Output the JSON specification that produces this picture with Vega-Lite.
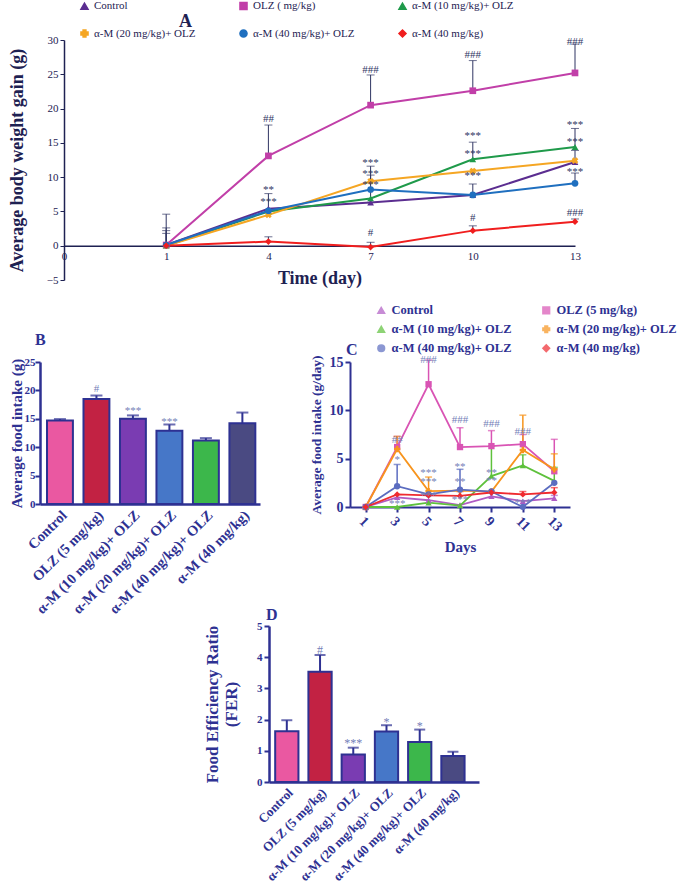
{
  "$schema": "https://vega.github.io/schema/vega-lite/v6.json",
  "padding": {"left": 8, "top": 0, "right": 2, "bottom": 0},
  "background": "white",
  "spacing": 16,
  "resolve": {"scale": {"x": "independent", "y": "independent", "color": "independent", "shape": "independent"}, "axis": {"x": "independent", "y": "independent"}, "legend": {"color": "independent", "shape": "independent"}},
  "datasets": {
    "lineA": [
      {"g": "Control", "day": 1, "v": 0.1}, {"g": "Control", "day": 4, "v": 5.4}, {"g": "Control", "day": 7, "v": 6.3}, {"g": "Control", "day": 10, "v": 7.4}, {"g": "Control", "day": 13, "v": 12.2},
      {"g": "OLZ ( mg/kg)", "day": 1, "v": 0.1}, {"g": "OLZ ( mg/kg)", "day": 4, "v": 13.1}, {"g": "OLZ ( mg/kg)", "day": 7, "v": 20.5}, {"g": "OLZ ( mg/kg)", "day": 10, "v": 22.6}, {"g": "OLZ ( mg/kg)", "day": 13, "v": 25.2},
      {"g": "α-M (10 mg/kg)+ OLZ", "day": 1, "v": 0}, {"g": "α-M (10 mg/kg)+ OLZ", "day": 4, "v": 5.0}, {"g": "α-M (10 mg/kg)+ OLZ", "day": 7, "v": 6.9}, {"g": "α-M (10 mg/kg)+ OLZ", "day": 10, "v": 12.6}, {"g": "α-M (10 mg/kg)+ OLZ", "day": 13, "v": 14.4},
      {"g": "α-M (20 mg/kg)+ OLZ", "day": 1, "v": 0}, {"g": "α-M (20 mg/kg)+ OLZ", "day": 4, "v": 4.5}, {"g": "α-M (20 mg/kg)+ OLZ", "day": 7, "v": 9.4}, {"g": "α-M (20 mg/kg)+ OLZ", "day": 10, "v": 10.9}, {"g": "α-M (20 mg/kg)+ OLZ", "day": 13, "v": 12.4},
      {"g": "α-M (40 mg/kg)+ OLZ", "day": 1, "v": 0.1}, {"g": "α-M (40 mg/kg)+ OLZ", "day": 4, "v": 5.1}, {"g": "α-M (40 mg/kg)+ OLZ", "day": 7, "v": 8.2}, {"g": "α-M (40 mg/kg)+ OLZ", "day": 10, "v": 7.4}, {"g": "α-M (40 mg/kg)+ OLZ", "day": 13, "v": 9.1},
      {"g": "α-M (40 mg/kg)", "day": 1, "v": 0}, {"g": "α-M (40 mg/kg)", "day": 4, "v": 0.6}, {"g": "α-M (40 mg/kg)", "day": 7, "v": -0.2}, {"g": "α-M (40 mg/kg)", "day": 10, "v": 2.2}, {"g": "α-M (40 mg/kg)", "day": 13, "v": 3.5}
    ],
    "errA": [
      {"day": 1, "v": 0, "hi": 4.6}, {"day": 1, "v": 0, "hi": 2.6}, {"day": 1, "v": 0, "hi": 2.2}, {"day": 1, "v": 0, "hi": 1.8},
      {"day": 4, "v": 13.1, "hi": 17.6}, {"day": 4, "v": 5.4, "hi": 7.6}, {"day": 4, "v": 0.6, "hi": 1.3},
      {"day": 7, "v": 20.5, "hi": 24.9}, {"day": 7, "v": 6.3, "hi": 11.6}, {"day": 7, "v": 9.4, "hi": 10.3}, {"day": 7, "v": -0.2, "hi": 0.5},
      {"day": 10, "v": 22.6, "hi": 27.0}, {"day": 10, "v": 12.6, "hi": 15.1}, {"day": 10, "v": 7.4, "hi": 9.0}, {"day": 10, "v": 2.2, "hi": 2.9},
      {"day": 13, "v": 25.2, "hi": 29.4}, {"day": 13, "v": 14.4, "hi": 17.1}, {"day": 13, "v": 12.4, "hi": 13.9}, {"day": 13, "v": 9.1, "hi": 10.6}, {"day": 13, "v": 3.5, "hi": 3.9}
    ],
    "annA": [
      {"day": 4, "v": 18.8, "t": "##"}, {"day": 4, "v": 8.4, "t": "**"}, {"day": 4, "v": 6.6, "t": "***"},
      {"day": 7, "v": 25.9, "t": "###"}, {"day": 7, "v": 12.4, "t": "***"}, {"day": 7, "v": 10.7, "t": "***"}, {"day": 7, "v": 9.1, "t": "***"}, {"day": 7, "v": 2.1, "t": "#"},
      {"day": 10, "v": 28.1, "t": "###"}, {"day": 10, "v": 16.3, "t": "***"}, {"day": 10, "v": 13.6, "t": "***"}, {"day": 10, "v": 10.4, "t": "***"}, {"day": 10, "v": 4.3, "t": "#"},
      {"day": 13, "v": 30.0, "t": "###"}, {"day": 13, "v": 17.9, "t": "***"}, {"day": 13, "v": 15.4, "t": "***"}, {"day": 13, "v": 11.0, "t": "***"}, {"day": 13, "v": 5.1, "t": "###"}
    ],
    "barsB": [
      {"g": "Control", "v": 14.7, "hi": 14.95},
      {"g": "OLZ (5 mg/kg)", "v": 18.5, "hi": 19.1},
      {"g": "α-M (10 mg/kg)+ OLZ", "v": 15.0, "hi": 15.6},
      {"g": "α-M (20 mg/kg)+ OLZ", "v": 12.9, "hi": 14.0},
      {"g": "α-M (40 mg/kg)+ OLZ", "v": 11.2, "hi": 11.6},
      {"g": "α-M (40 mg/kg)", "v": 14.2, "hi": 16.1}
    ],
    "annB": [
      {"g": "OLZ (5 mg/kg)", "v": 20.6, "t": "#"},
      {"g": "α-M (10 mg/kg)+ OLZ", "v": 16.7, "t": "***"},
      {"g": "α-M (20 mg/kg)+ OLZ", "v": 14.8, "t": "***"}
    ],
    "lineC": [
      {"g": "Control", "day": 1, "v": 0}, {"g": "Control", "day": 3, "v": 1.0}, {"g": "Control", "day": 5, "v": 0.7}, {"g": "Control", "day": 7, "v": 0.2}, {"g": "Control", "day": 9, "v": 1.1}, {"g": "Control", "day": 11, "v": 0.6}, {"g": "Control", "day": 13, "v": 0.9},
      {"g": "OLZ (5 mg/kg)", "day": 1, "v": 0}, {"g": "OLZ (5 mg/kg)", "day": 3, "v": 6.2}, {"g": "OLZ (5 mg/kg)", "day": 5, "v": 12.7}, {"g": "OLZ (5 mg/kg)", "day": 7, "v": 6.2}, {"g": "OLZ (5 mg/kg)", "day": 9, "v": 6.3}, {"g": "OLZ (5 mg/kg)", "day": 11, "v": 6.5}, {"g": "OLZ (5 mg/kg)", "day": 13, "v": 3.7},
      {"g": "α-M (10 mg/kg)+ OLZ", "day": 1, "v": 0}, {"g": "α-M (10 mg/kg)+ OLZ", "day": 3, "v": 0}, {"g": "α-M (10 mg/kg)+ OLZ", "day": 5, "v": 0.45}, {"g": "α-M (10 mg/kg)+ OLZ", "day": 7, "v": 0.15}, {"g": "α-M (10 mg/kg)+ OLZ", "day": 9, "v": 3.2}, {"g": "α-M (10 mg/kg)+ OLZ", "day": 11, "v": 4.3}, {"g": "α-M (10 mg/kg)+ OLZ", "day": 13, "v": 2.7},
      {"g": "α-M (20 mg/kg)+ OLZ", "day": 1, "v": 0}, {"g": "α-M (20 mg/kg)+ OLZ", "day": 3, "v": 6.0}, {"g": "α-M (20 mg/kg)+ OLZ", "day": 5, "v": 1.65}, {"g": "α-M (20 mg/kg)+ OLZ", "day": 7, "v": 1.7}, {"g": "α-M (20 mg/kg)+ OLZ", "day": 9, "v": 1.6}, {"g": "α-M (20 mg/kg)+ OLZ", "day": 11, "v": 5.9}, {"g": "α-M (20 mg/kg)+ OLZ", "day": 13, "v": 3.9},
      {"g": "α-M (40 mg/kg)+ OLZ", "day": 1, "v": 0}, {"g": "α-M (40 mg/kg)+ OLZ", "day": 3, "v": 2.15}, {"g": "α-M (40 mg/kg)+ OLZ", "day": 5, "v": 1.3}, {"g": "α-M (40 mg/kg)+ OLZ", "day": 7, "v": 1.8}, {"g": "α-M (40 mg/kg)+ OLZ", "day": 9, "v": 1.6}, {"g": "α-M (40 mg/kg)+ OLZ", "day": 11, "v": 0}, {"g": "α-M (40 mg/kg)+ OLZ", "day": 13, "v": 2.5},
      {"g": "α-M (40 mg/kg)", "day": 1, "v": 0}, {"g": "α-M (40 mg/kg)", "day": 3, "v": 1.3}, {"g": "α-M (40 mg/kg)", "day": 5, "v": 1.2}, {"g": "α-M (40 mg/kg)", "day": 7, "v": 1.15}, {"g": "α-M (40 mg/kg)", "day": 9, "v": 1.5}, {"g": "α-M (40 mg/kg)", "day": 11, "v": 1.3}, {"g": "α-M (40 mg/kg)", "day": 13, "v": 1.5}
    ],
    "errC": [
      {"g": "OLZ (5 mg/kg)", "day": 3, "v": 6.2, "hi": 7.3}, {"g": "OLZ (5 mg/kg)", "day": 5, "v": 12.7, "hi": 15.2}, {"g": "OLZ (5 mg/kg)", "day": 7, "v": 6.2, "hi": 8.2}, {"g": "OLZ (5 mg/kg)", "day": 9, "v": 6.3, "hi": 7.9}, {"g": "OLZ (5 mg/kg)", "day": 11, "v": 6.5, "hi": 7.5}, {"g": "OLZ (5 mg/kg)", "day": 13, "v": 3.7, "hi": 7.0},
      {"g": "α-M (20 mg/kg)+ OLZ", "day": 3, "v": 6.0, "hi": 7.3}, {"g": "α-M (20 mg/kg)+ OLZ", "day": 5, "v": 1.65, "hi": 3.1}, {"g": "α-M (20 mg/kg)+ OLZ", "day": 11, "v": 5.9, "hi": 9.5}, {"g": "α-M (20 mg/kg)+ OLZ", "day": 13, "v": 3.9, "hi": 5.5},
      {"g": "α-M (10 mg/kg)+ OLZ", "day": 9, "v": 3.2, "hi": 6.3}, {"g": "α-M (10 mg/kg)+ OLZ", "day": 11, "v": 4.3, "hi": 5.4}, {"g": "α-M (10 mg/kg)+ OLZ", "day": 13, "v": 2.7, "hi": 4.1},
      {"g": "α-M (40 mg/kg)+ OLZ", "day": 3, "v": 2.15, "hi": 4.4}, {"g": "α-M (40 mg/kg)+ OLZ", "day": 7, "v": 1.8, "hi": 3.9},
      {"g": "α-M (40 mg/kg)", "day": 7, "v": 1.15, "hi": 1.6}, {"g": "α-M (40 mg/kg)", "day": 11, "v": 1.3, "hi": 1.6}, {"g": "α-M (40 mg/kg)", "day": 13, "v": 1.5, "hi": 2.0},
      {"g": "Control", "day": 9, "v": 1.1, "hi": 1.5}, {"g": "Control", "day": 13, "v": 0.9, "hi": 1.2}
    ],
    "annC": [
      {"day": 3, "v": 7.1, "t": "##"}, {"day": 3, "v": 5.1, "t": "*"}, {"day": 3, "v": 0.5, "t": "***"},
      {"day": 5, "v": 15.4, "t": "###"}, {"day": 5, "v": 3.7, "t": "***"}, {"day": 5, "v": 2.8, "t": "***"}, {"day": 5, "v": 1.3, "t": "***"},
      {"day": 7, "v": 9.2, "t": "###"}, {"day": 7, "v": 4.3, "t": "**"}, {"day": 7, "v": 2.8, "t": "**"}, {"day": 7, "v": 0.9, "t": "***"},
      {"day": 9, "v": 8.8, "t": "###"}, {"day": 9, "v": 3.7, "t": "**"}, {"day": 9, "v": 2.9, "t": "**"},
      {"day": 11, "v": 8.0, "t": "###"}, {"day": 11, "v": 0.6, "t": "***"}
    ],
    "barsD": [
      {"g": "Control", "v": 1.63, "hi": 1.98},
      {"g": "OLZ (5 mg/kg)", "v": 3.53, "hi": 4.07},
      {"g": "α-M (10 mg/kg)+ OLZ", "v": 0.88, "hi": 1.10},
      {"g": "α-M (20 mg/kg)+ OLZ", "v": 1.62, "hi": 1.82},
      {"g": "α-M (40 mg/kg)+ OLZ", "v": 1.28, "hi": 1.68},
      {"g": "α-M (40 mg/kg)", "v": 0.83, "hi": 0.97}
    ],
    "annD": [
      {"g": "OLZ (5 mg/kg)", "v": 4.3, "t": "#"},
      {"g": "α-M (10 mg/kg)+ OLZ", "v": 1.31, "t": "***"},
      {"g": "α-M (20 mg/kg)+ OLZ", "v": 1.98, "t": "*"},
      {"g": "α-M (40 mg/kg)+ OLZ", "v": 1.86, "t": "*"}
    ]
  },
  "vconcat": [
    {
      "spacing": -36,
      "resolve": {"scale": {"x": "independent", "y": "independent", "color": "independent", "shape": "independent"}, "axis": {"x": "independent", "y": "independent"}, "legend": {"color": "independent", "shape": "independent"}},
      "hconcat": [
        {"width": 1, "height": 10, "data": {"values": [{}]}, "mark": {"type": "point", "opacity": 0}, "encoding": {}},
        {
          "width": 511, "height": 240,
          "title": {"text": "A", "anchor": "start", "frame": "group", "dx": 115, "dy": 31, "fontSize": 18, "fontWeight": "bold", "color": "#1e2152", "offset": 0},
          "encoding": {
            "x": {"field": "day", "type": "ordinal", "scale": {"type": "point", "domain": [0, 1, 4, 7, 10, 13], "padding": 0},
              "axis": {"offset": -34.3, "labelAngle": 0, "ticks": false, "domainColor": "#1e2152", "domainWidth": 1.5, "labelFontSize": 11, "labelColor": "#1e2152", "labelPadding": 5, "title": "Time (day)", "titleFontSize": 18, "titleFontWeight": "bold", "titleColor": "#1e2152", "titlePadding": 8}},
            "y": {"field": "v", "type": "quantitative", "scale": {"domain": [-5, 30], "nice": false, "zero": false},
              "axis": {"values": [-5, 0, 5, 10, 15, 20, 25, 30], "title": "Average body weight gain (g)", "titleFontSize": 18, "titleFontWeight": "bold", "titleColor": "#1e2152", "titlePadding": 20, "labelFontSize": 11, "labelColor": "#1e2152", "domainColor": "#1e2152", "domainWidth": 1.5, "tickColor": "#1e2152", "tickSize": 4}}
          },
          "layer": [
            {"data": {"name": "errA"}, "mark": {"type": "rule", "color": "#2f3563", "strokeWidth": 1},
              "encoding": {"y2": {"field": "hi"}}},
            {"data": {"name": "errA"}, "mark": {"type": "tick", "color": "#2f3563", "thickness": 1, "size": 8},
              "encoding": {"y": {"field": "hi", "type": "quantitative", "scale": {"domain": [-5, 30], "nice": false, "zero": false}, "title": "Average body weight gain (g)"}}},
            {"data": {"name": "lineA"}, "mark": {"type": "line", "strokeWidth": 2},
              "encoding": {
                "color": {"field": "g", "type": "nominal",
                  "scale": {"domain": ["Control", "OLZ ( mg/kg)", "α-M (10 mg/kg)+ OLZ", "α-M (20 mg/kg)+ OLZ", "α-M (40 mg/kg)+ OLZ", "α-M (40 mg/kg)"], "range": ["#5b2d90", "#c13fa8", "#1f9a4a", "#f5a623", "#1f6fbf", "#f01e1e"]},
                  "legend": {"title": null, "orient": "none", "legendX": 15, "legendY": -40, "columns": 3, "direction": "horizontal", "gridAlign": "all", "columnPadding": 40, "rowPadding": 13, "labelFontSize": 11, "labelColor": "#1e2152", "symbolSize": 50, "labelLimit": 300, "padding": 0}}
              }},
            {"data": {"name": "lineA"}, "mark": {"type": "point", "filled": true, "size": 45, "opacity": 1},
              "encoding": {
                "color": {"field": "g", "type": "nominal",
                  "scale": {"domain": ["Control", "OLZ ( mg/kg)", "α-M (10 mg/kg)+ OLZ", "α-M (20 mg/kg)+ OLZ", "α-M (40 mg/kg)+ OLZ", "α-M (40 mg/kg)"], "range": ["#5b2d90", "#c13fa8", "#1f9a4a", "#f5a623", "#1f6fbf", "#f01e1e"]},
                  "legend": {"title": null, "orient": "none", "legendX": 15, "legendY": -40, "columns": 3, "direction": "horizontal", "gridAlign": "all", "columnPadding": 40, "rowPadding": 13, "labelFontSize": 11, "labelColor": "#1e2152", "symbolSize": 50, "labelLimit": 300, "padding": 0}},
                "shape": {"field": "g", "type": "nominal",
                  "scale": {"domain": ["Control", "OLZ ( mg/kg)", "α-M (10 mg/kg)+ OLZ", "α-M (20 mg/kg)+ OLZ", "α-M (40 mg/kg)+ OLZ", "α-M (40 mg/kg)"], "range": ["triangle-up", "square", "triangle-up", "cross", "circle", "diamond"]},
                  "legend": {"title": null, "orient": "none", "legendX": 15, "legendY": -40, "columns": 3, "direction": "horizontal", "gridAlign": "all", "columnPadding": 40, "rowPadding": 13, "labelFontSize": 11, "labelColor": "#1e2152", "symbolSize": 50, "labelLimit": 300, "padding": 0}},
                "angle": {"condition": {"test": "datum.g === 'α-M (20 mg/kg)+ OLZ'", "value": 45}, "value": 0}
              }},
            {"data": {"name": "annA"}, "mark": {"type": "text", "color": "#2f3563", "fontSize": 11, "baseline": "middle", "dy": 2},
              "encoding": {"text": {"field": "t"}}}
          ]
        }
      ]
    },
    {
      "spacing": -9,
      "resolve": {"scale": {"x": "independent", "y": "independent", "color": "independent", "shape": "independent"}, "axis": {"x": "independent", "y": "independent"}, "legend": {"color": "independent", "shape": "independent"}},
      "vconcat": [
        {
          "spacing": 48,
          "resolve": {"scale": {"x": "independent", "y": "independent", "color": "independent", "shape": "independent"}, "axis": {"x": "independent", "y": "independent"}, "legend": {"color": "independent", "shape": "independent"}},
          "hconcat": [
            {
              "width": 220, "height": 142,
              "title": {"text": "B", "anchor": "start", "frame": "group", "dx": -5, "fontSize": 16, "fontWeight": "bold", "color": "#2e3192", "offset": 8},
              "encoding": {
                "x": {"field": "g", "type": "nominal", "sort": null,
                  "scale": {"domain": ["Control", "OLZ (5 mg/kg)", "α-M (10 mg/kg)+ OLZ", "α-M (20 mg/kg)+ OLZ", "α-M (40 mg/kg)+ OLZ", "α-M (40 mg/kg)"], "paddingInner": 0.29, "paddingOuter": 0.16, "align": 0.6},
                  "axis": {"title": null, "labelAngle": -45, "labelFontSize": 14.5, "labelFontWeight": "bold", "labelColor": "#2e3192", "domainColor": "#2e3192", "domainWidth": 2.5, "ticks": false, "labelPadding": 4, "labelLimit": 300}},
                "y": {"field": "v", "type": "quantitative", "scale": {"domain": [0, 25], "nice": false},
                  "axis": {"values": [0, 5, 10, 15, 20, 25], "title": "Average food intake (g)", "titleFontSize": 15, "titleFontWeight": "bold", "titleColor": "#2e3192", "titlePadding": 0, "labelPadding": 0, "labelFontSize": 11, "labelFontWeight": "bold", "labelColor": "#2e3192", "domainColor": "#2e3192", "domainWidth": 2.5, "tickColor": "#2e3192", "tickWidth": 2, "tickSize": 5}}
              },
              "layer": [
                {"data": {"name": "barsB"}, "mark": {"type": "bar", "stroke": "#2e3192", "strokeWidth": 2},
                  "encoding": {
                    "color": {"field": "g", "type": "nominal", "scale": {"domain": ["Control", "OLZ (5 mg/kg)", "α-M (10 mg/kg)+ OLZ", "α-M (20 mg/kg)+ OLZ", "α-M (40 mg/kg)+ OLZ", "α-M (40 mg/kg)"], "range": ["#ea58a1", "#c22243", "#7a3cb2", "#4677c8", "#3cb74b", "#4a4a82"]}, "legend": null}
                  }},
                {"data": {"name": "barsB"}, "mark": {"type": "rule", "color": "#2e3192", "strokeWidth": 2},
                  "encoding": {"y2": {"field": "hi"}}},
                {"data": {"name": "barsB"}, "mark": {"type": "tick", "color": "#2e3192", "thickness": 2, "size": 12},
                  "encoding": {"y": {"field": "hi", "type": "quantitative", "scale": {"domain": [0, 25], "nice": false}, "title": "Average food intake (g)"}}},
                {"data": {"name": "annB"}, "mark": {"type": "text", "color": "#7480b8", "fontSize": 11, "baseline": "middle", "dy": 2},
                  "encoding": {"text": {"field": "t"}}}
              ]
            },
            {
              "width": 220, "height": 145,
              "title": {"text": "C", "anchor": "start", "frame": "group", "dx": -4, "dy": 54, "fontSize": 16, "fontWeight": "bold", "color": "#2e3192", "offset": 0},
              "encoding": {
                "x": {"field": "day", "type": "ordinal", "scale": {"type": "point", "domain": [1, 3, 5, 7, 9, 11, 13], "padding": 0.5},
                  "axis": {"title": "Days", "titleFontSize": 15, "titleFontWeight": "bold", "titleColor": "#2e3192", "titlePadding": 6, "labelAngle": 45, "labelFontSize": 14, "labelFontWeight": "bold", "labelColor": "#2e3192", "domainColor": "#2e3192", "domainWidth": 2, "tickColor": "#2e3192", "tickWidth": 2, "tickSize": 5}},
                "y": {"field": "v", "type": "quantitative", "scale": {"domain": [0, 15], "nice": false},
                  "axis": {"values": [0, 5, 10, 15], "title": "Average food intake (g/day)", "titleFontSize": 13.5, "titleFontWeight": "bold", "titleColor": "#2e3192", "titlePadding": 6, "labelFontSize": 14, "labelFontWeight": "bold", "labelColor": "#2e3192", "domainColor": "#2e3192", "domainWidth": 2, "tickColor": "#2e3192", "tickWidth": 2, "tickSize": 5}},
                "color": {"field": "g", "type": "nominal", "scale": {"domain": ["Control", "OLZ (5 mg/kg)", "α-M (10 mg/kg)+ OLZ", "α-M (20 mg/kg)+ OLZ", "α-M (40 mg/kg)+ OLZ", "α-M (40 mg/kg)"], "range": ["#b05cc4", "#d954b4", "#5ec13c", "#f7941d", "#5b6cc0", "#ef2b30"]},
                  "legend": {"title": null, "orient": "none", "legendX": 25, "legendY": -58, "columns": 2, "direction": "horizontal", "columnPadding": 27, "rowPadding": 5, "labelFontSize": 12.5, "labelFontWeight": "bold", "labelColor": "#2e3192", "symbolSize": 45, "labelLimit": 300, "padding": 0}}
              },
              "layer": [
                {"data": {"name": "errC"}, "mark": {"type": "rule", "strokeWidth": 1.5},
                  "encoding": {"y2": {"field": "hi"}}},
                {"data": {"name": "errC"}, "mark": {"type": "tick", "thickness": 1.5, "size": 7},
                  "encoding": {"y": {"field": "hi", "type": "quantitative", "scale": {"domain": [0, 15], "nice": false}, "title": "Average food intake (g/day)"}}},
                {"data": {"name": "lineC"}, "mark": {"type": "line", "strokeWidth": 1.8},
                  "encoding": {}},
                {"data": {"name": "lineC"}, "mark": {"type": "point", "filled": true, "size": 40, "opacity": 1},
                  "encoding": {
                    "shape": {"field": "g", "type": "nominal", "scale": {"domain": ["Control", "OLZ (5 mg/kg)", "α-M (10 mg/kg)+ OLZ", "α-M (20 mg/kg)+ OLZ", "α-M (40 mg/kg)+ OLZ", "α-M (40 mg/kg)"], "range": ["triangle-up", "square", "triangle-up", "cross", "circle", "diamond"]},
                      "legend": {"title": null, "orient": "none", "legendX": 25, "legendY": -58, "columns": 2, "direction": "horizontal", "columnPadding": 27, "rowPadding": 5, "labelFontSize": 12.5, "labelFontWeight": "bold", "labelColor": "#2e3192", "symbolSize": 45, "labelLimit": 300, "padding": 0}}
                  }},
                {"data": {"name": "annC"}, "mark": {"type": "text", "color": "#7480b8", "fontSize": 11, "baseline": "middle", "dy": 2},
                  "encoding": {"color": {"value": "#7480b8"}, "text": {"field": "t"}}}
              ]
            }
          ]
        },
        {
          "spacing": 0,
          "resolve": {"scale": {"x": "independent", "y": "independent", "color": "independent"}, "axis": {"x": "independent", "y": "independent"}},
          "hconcat": [
            {"width": 163, "height": 10, "data": {"values": [{}]}, "mark": {"type": "point", "opacity": 0}, "encoding": {}},
            {
              "width": 210, "height": 156,
              "title": {"text": "D", "anchor": "start", "frame": "group", "dx": -3, "dy": 7, "fontSize": 16, "fontWeight": "bold", "color": "#2e3192", "offset": 4},
              "encoding": {
                "x": {"field": "g", "type": "nominal", "sort": null,
                  "scale": {"domain": ["Control", "OLZ (5 mg/kg)", "α-M (10 mg/kg)+ OLZ", "α-M (20 mg/kg)+ OLZ", "α-M (40 mg/kg)+ OLZ", "α-M (40 mg/kg)"], "paddingInner": 0.3, "paddingOuter": 0.31, "align": 0.3},
                  "axis": {"title": null, "labelAngle": -45, "labelFontSize": 13, "labelFontWeight": "bold", "labelColor": "#2e3192", "domainColor": "#2e3192", "domainWidth": 2.5, "ticks": false, "labelPadding": 4, "labelLimit": 300}},
                "y": {"field": "v", "type": "quantitative", "scale": {"domain": [0, 5], "nice": false},
                  "axis": {"values": [0, 1, 2, 3, 4, 5], "title": ["Food Efficiency Ratio", "(FER)"], "titleFontSize": 17, "titleFontWeight": "bold", "titleColor": "#2e3192", "titlePadding": 16, "labelFontSize": 11, "labelFontWeight": "bold", "labelColor": "#2e3192", "domainColor": "#2e3192", "domainWidth": 2.5, "tickColor": "#2e3192", "tickWidth": 2, "tickSize": 5}}
              },
              "layer": [
                {"data": {"name": "barsD"}, "mark": {"type": "bar", "stroke": "#2e3192", "strokeWidth": 2},
                  "encoding": {
                    "color": {"field": "g", "type": "nominal", "scale": {"domain": ["Control", "OLZ (5 mg/kg)", "α-M (10 mg/kg)+ OLZ", "α-M (20 mg/kg)+ OLZ", "α-M (40 mg/kg)+ OLZ", "α-M (40 mg/kg)"], "range": ["#ea58a1", "#c22243", "#7a3cb2", "#4677c8", "#3cb74b", "#4a4a82"]}, "legend": null}
                  }},
                {"data": {"name": "barsD"}, "mark": {"type": "rule", "color": "#2e3192", "strokeWidth": 2},
                  "encoding": {"y2": {"field": "hi"}}},
                {"data": {"name": "barsD"}, "mark": {"type": "tick", "color": "#2e3192", "thickness": 2, "size": 11},
                  "encoding": {"y": {"field": "hi", "type": "quantitative", "scale": {"domain": [0, 5], "nice": false}, "title": ["Food Efficiency Ratio", "(FER)"]}}},
                {"data": {"name": "annD"}, "mark": {"type": "text", "color": "#7480b8", "fontSize": 12, "baseline": "middle", "dy": 2},
                  "encoding": {"text": {"field": "t"}}}
              ]
            }
          ]
        }
      ]
    }
  ],
  "config": {
    "view": {"stroke": null},
    "font": "Liberation Serif",
    "axis": {"labelFont": "Liberation Serif", "titleFont": "Liberation Serif", "grid": false},
    "legend": {"labelFont": "Liberation Serif"},
    "title": {"font": "Liberation Serif"},
    "text": {"font": "Liberation Serif"}
  }
}
